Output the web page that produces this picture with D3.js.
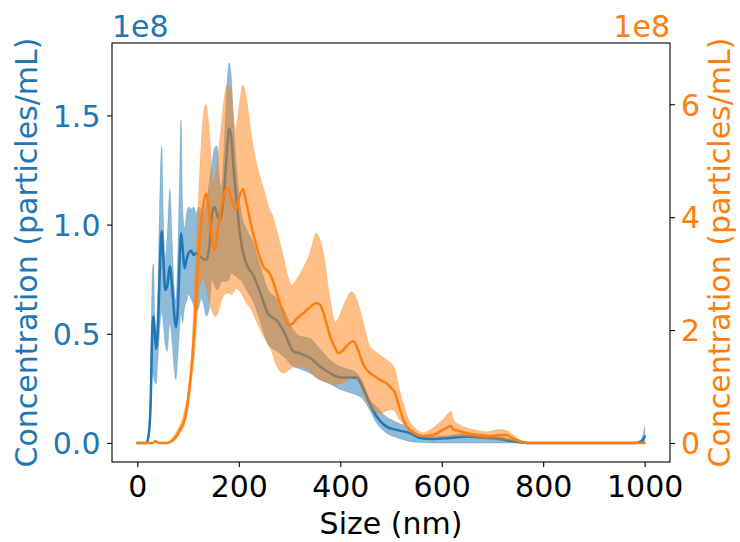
<!DOCTYPE html>
<html>
<head>
<meta charset="utf-8">
<script src="https://cdn.jsdelivr.net/npm/d3@7"></script>
<style>
  html, body { margin: 0; padding: 0; background: #fff; }
  svg { display: block; }
  text { font-family: "DejaVu Sans", sans-serif; }
</style>
</head>
<body>
<div id="chart"></div>
<script>
// ---------- data (units of 1e8 particles/mL) ----------
const blueSize = [0,18,22,26,30,32,34,37,41,45,48,51,55,59,64,69,73,76,80,84,86,89,93,97,101,106,111,116,121,126,131,136,142,147,152,157,162,166,171,176,181,185,190,196,201,206,215,228,242,258,275,291,307,320,340,360,380,400,419,432,445,458,472,491,511,537,557,583,616,649,681,714,747,770,980,990,996,1000];
const blueMean = [0,0,0.03,0.17,0.55,0.58,0.52,0.43,0.55,0.85,0.97,0.85,0.70,0.72,0.81,0.70,0.58,0.53,0.62,0.88,0.96,0.90,0.80,0.84,0.87,0.88,0.86,0.87,0.86,0.85,0.84,0.84,0.90,1.05,1.08,1.05,1.02,1.05,1.15,1.32,1.44,1.40,1.25,1.10,0.98,0.90,0.82,0.77,0.69,0.59,0.56,0.50,0.42,0.41,0.39,0.35,0.32,0.30,0.30,0.30,0.25,0.18,0.12,0.075,0.06,0.045,0.023,0.018,0.023,0.03,0.025,0.018,0.005,0,0,0.004,0.012,0.03];
const blueLow  = [0,0,0.02,0.12,0.33,0.30,0.28,0.27,0.40,0.55,0.60,0.55,0.45,0.42,0.55,0.45,0.33,0.29,0.40,0.55,0.60,0.55,0.62,0.65,0.68,0.66,0.63,0.60,0.62,0.66,0.63,0.58,0.62,0.75,0.72,0.70,0.72,0.74,0.74,0.74,0.75,0.78,0.77,0.76,0.75,0.74,0.70,0.65,0.56,0.45,0.42,0.39,0.35,0.34,0.32,0.29,0.27,0.245,0.23,0.22,0.20,0.15,0.09,0.045,0.025,0.007,0.002,0,0,0,0,0,0,0,0,0,0,0];
const blueHigh = [0,0,0.05,0.25,0.80,0.82,0.60,0.50,0.75,1.20,1.36,1.05,0.85,0.95,1.16,0.90,0.70,0.65,0.90,1.30,1.48,1.10,0.98,1.05,1.08,1.07,1.08,1.05,1.08,1.07,1.05,1.10,1.20,1.28,1.35,1.36,1.20,1.17,1.35,1.60,1.74,1.68,1.45,1.25,1.12,1.04,0.98,0.92,0.81,0.70,0.66,0.60,0.52,0.49,0.48,0.43,0.38,0.35,0.335,0.32,0.275,0.20,0.165,0.12,0.095,0.07,0.038,0.03,0.035,0.046,0.04,0.03,0.01,0,0,0.01,0.03,0.075];

const orangeSize = [0,30,36,42,60,70,77,85,91,100,107,113,118,123,130,135,139,143,149,153,159,166,171,177,182,186,194,201,208,215,225,235,248,261,268,275,288,297,304,314,327,340,353,360,367,380,390,396,403,412,422,426,435,445,458,465,478,495,501,508,514,518,524,531,544,557,564,583,603,619,622,626,636,642,662,688,714,727,740,753,770,1000];
const orangeMean = [0,0,0.03,0,0,0.05,0.12,0.25,0.35,0.77,1.36,2.1,2.9,3.6,4.19,4.42,4.3,3.95,3.5,3.42,3.8,4.2,4.4,4.51,4.45,4.3,4.13,4.36,4.5,4.25,3.83,3.48,3.13,3.0,2.85,2.65,2.3,2.09,2.1,2.2,2.3,2.4,2.48,2.45,2.3,1.89,1.68,1.59,1.62,1.71,1.79,1.80,1.65,1.4,1.24,1.2,1.12,1.03,0.97,0.885,0.7,0.59,0.42,0.29,0.18,0.13,0.12,0.14,0.235,0.3,0.24,0.23,0.205,0.19,0.15,0.12,0.14,0.14,0.08,0.03,0,0];
const orangeLow  = [0,0,0.02,0,0,0.02,0.08,0.18,0.28,0.6,1.1,1.6,2.2,2.77,2.9,2.8,2.6,2.45,2.3,2.24,2.3,2.53,2.62,2.65,2.65,2.62,2.74,2.7,2.6,2.48,2.35,2.15,1.9,1.7,1.53,1.35,1.24,1.28,1.33,1.36,1.33,1.28,1.15,1.12,1.1,1.05,1.03,1.04,1.06,1.1,1.15,1.17,1.12,0.885,0.65,0.58,0.53,0.58,0.59,0.56,0.45,0.4,0.354,0.26,0.16,0.12,0.11,0.1,0.1,0.12,0.12,0.12,0.12,0.12,0.1,0.06,0.05,0.05,0.03,0.01,0,0];
const orangeHigh = [0,0,0.05,0.01,0.02,0.1,0.2,0.35,0.5,0.95,1.6,2.9,3.9,4.8,5.8,6.0,5.8,5.37,4.6,4.7,5.1,5.66,6.1,6.35,6.3,6.08,5.55,6.0,6.34,6.1,5.43,4.95,4.54,4.13,4.0,3.75,3.3,2.95,2.8,2.9,3.1,3.36,3.72,3.6,3.36,2.54,2.15,2.2,2.36,2.55,2.68,2.66,2.48,2.15,1.72,1.65,1.56,1.45,1.41,1.3,1.06,0.9,0.72,0.5,0.29,0.2,0.18,0.27,0.42,0.56,0.45,0.38,0.32,0.29,0.24,0.2,0.24,0.22,0.15,0.06,0.005,0];

const xTicks = [0,200,400,600,800,1000];
const leftTicks = [0,0.5,1.0,1.5];
const rightTicks = [0,2,4,6];

// ---------- layout ----------
const W = 740, H = 542;
const L = 112, R = 670, T = 43, B = 462;
const BLUE = "#1f77b4", ORANGE = "#ff7f0e";
const FS = 30;

const svg = d3.select("#chart").append("svg").attr("width", W).attr("height", H);

const x = d3.scaleLinear().domain([-50, 1050]).range([L, R]);
const yL = d3.scaleLinear().domain([-0.0872, 1.8316]).range([B, T]);
const yR = d3.scaleLinear().domain([-0.337, 7.085]).range([B, T]);

const blue = blueSize.map((s, i) => ({s, m: blueMean[i], lo: blueLow[i], hi: blueHigh[i]}));
const orange = orangeSize.map((s, i) => ({s, m: orangeMean[i], lo: orangeLow[i], hi: orangeHigh[i]}));

const curve = d3.curveMonotoneX;
svg.append("defs").append("clipPath").attr("id", "clip")
  .append("rect").attr("x", L).attr("y", T).attr("width", R - L).attr("height", B - T);
const plot = svg.append("g").attr("clip-path", "url(#clip)");

function drawSeries(data, y, color) {
  const area = d3.area().curve(curve).x(d => x(d.s)).y0(d => y(d.lo)).y1(d => y(d.hi));
  const line = d3.line().curve(curve).x(d => x(d.s)).y(d => y(d.m));
  plot.append("path").datum(data).attr("d", area)
    .attr("fill", color).attr("fill-opacity", 0.5)
    .attr("stroke", color).attr("stroke-opacity", 0.25).attr("stroke-width", 1);
  plot.append("path").datum(data).attr("d", line)
    .attr("fill", "none").attr("stroke", color).attr("stroke-width", 2.5)
    .attr("stroke-linejoin", "round").attr("stroke-linecap", "round");
}
drawSeries(blue, yL, BLUE);
drawSeries(orange, yR, ORANGE);

// ---------- axes ----------
const tickLen = 5;
const xAxis = d3.axisBottom(x).tickValues(xTicks).tickSize(tickLen).tickPadding(6).tickFormat(d3.format("d"));
const gx = svg.append("g").attr("transform", `translate(0,${B})`).call(xAxis);
gx.select(".domain").remove();
gx.selectAll("line").attr("stroke", "#000").attr("stroke-width", 1.1);
gx.selectAll("text").attr("font-size", FS).attr("fill", "#000")
  .attr("font-family", "DejaVu Sans").attr("dy", null).attr("y", 35);

const yAxisL = d3.axisLeft(yL).tickValues(leftTicks).tickSize(tickLen).tickPadding(6).tickFormat(d3.format(".1f"));
const gl = svg.append("g").attr("transform", `translate(${L},0)`).call(yAxisL);
gl.select(".domain").remove();
gl.selectAll("line").attr("stroke", "#000").attr("stroke-width", 1.1);
gl.selectAll("text").attr("font-size", FS).attr("fill", BLUE)
  .attr("font-family", "DejaVu Sans").attr("dy", "0.36em").attr("x", -11.5);

const yAxisR = d3.axisRight(yR).tickValues(rightTicks).tickSize(tickLen).tickPadding(6).tickFormat(d3.format("d"));
const gr = svg.append("g").attr("transform", `translate(${R},0)`).call(yAxisR);
gr.select(".domain").remove();
gr.selectAll("line").attr("stroke", "#000").attr("stroke-width", 1.1);
gr.selectAll("text").attr("font-size", FS).attr("fill", ORANGE)
  .attr("font-family", "DejaVu Sans").attr("dy", "0.36em").attr("x", 11);

// frame
svg.append("rect").attr("x", L).attr("y", T).attr("width", R - L).attr("height", B - T)
  .attr("fill", "none").attr("stroke", "#000").attr("stroke-width", 1.1);

// offset texts
svg.append("text").attr("x", L).attr("y", 37).attr("font-size", FS).attr("fill", BLUE).text("1e8");
svg.append("text").attr("x", R).attr("y", 37).attr("font-size", FS).attr("fill", ORANGE)
  .attr("text-anchor", "end").text("1e8");

// axis labels
svg.append("text").attr("x", (L + R) / 2).attr("y", 534).attr("text-anchor", "middle")
  .attr("font-size", FS).attr("fill", "#000").text("Size (nm)");
svg.append("text").attr("transform", `translate(37,${(T + B) / 2}) rotate(-90)`)
  .attr("text-anchor", "middle").attr("font-size", FS).attr("fill", BLUE)
  .text("Concentration (particles/mL)");
svg.append("text").attr("transform", `translate(730,${(T + B) / 2}) rotate(-90)`)
  .attr("text-anchor", "middle").attr("font-size", FS).attr("fill", ORANGE)
  .text("Concentration (particles/mL)");
</script>
</body>
</html>
